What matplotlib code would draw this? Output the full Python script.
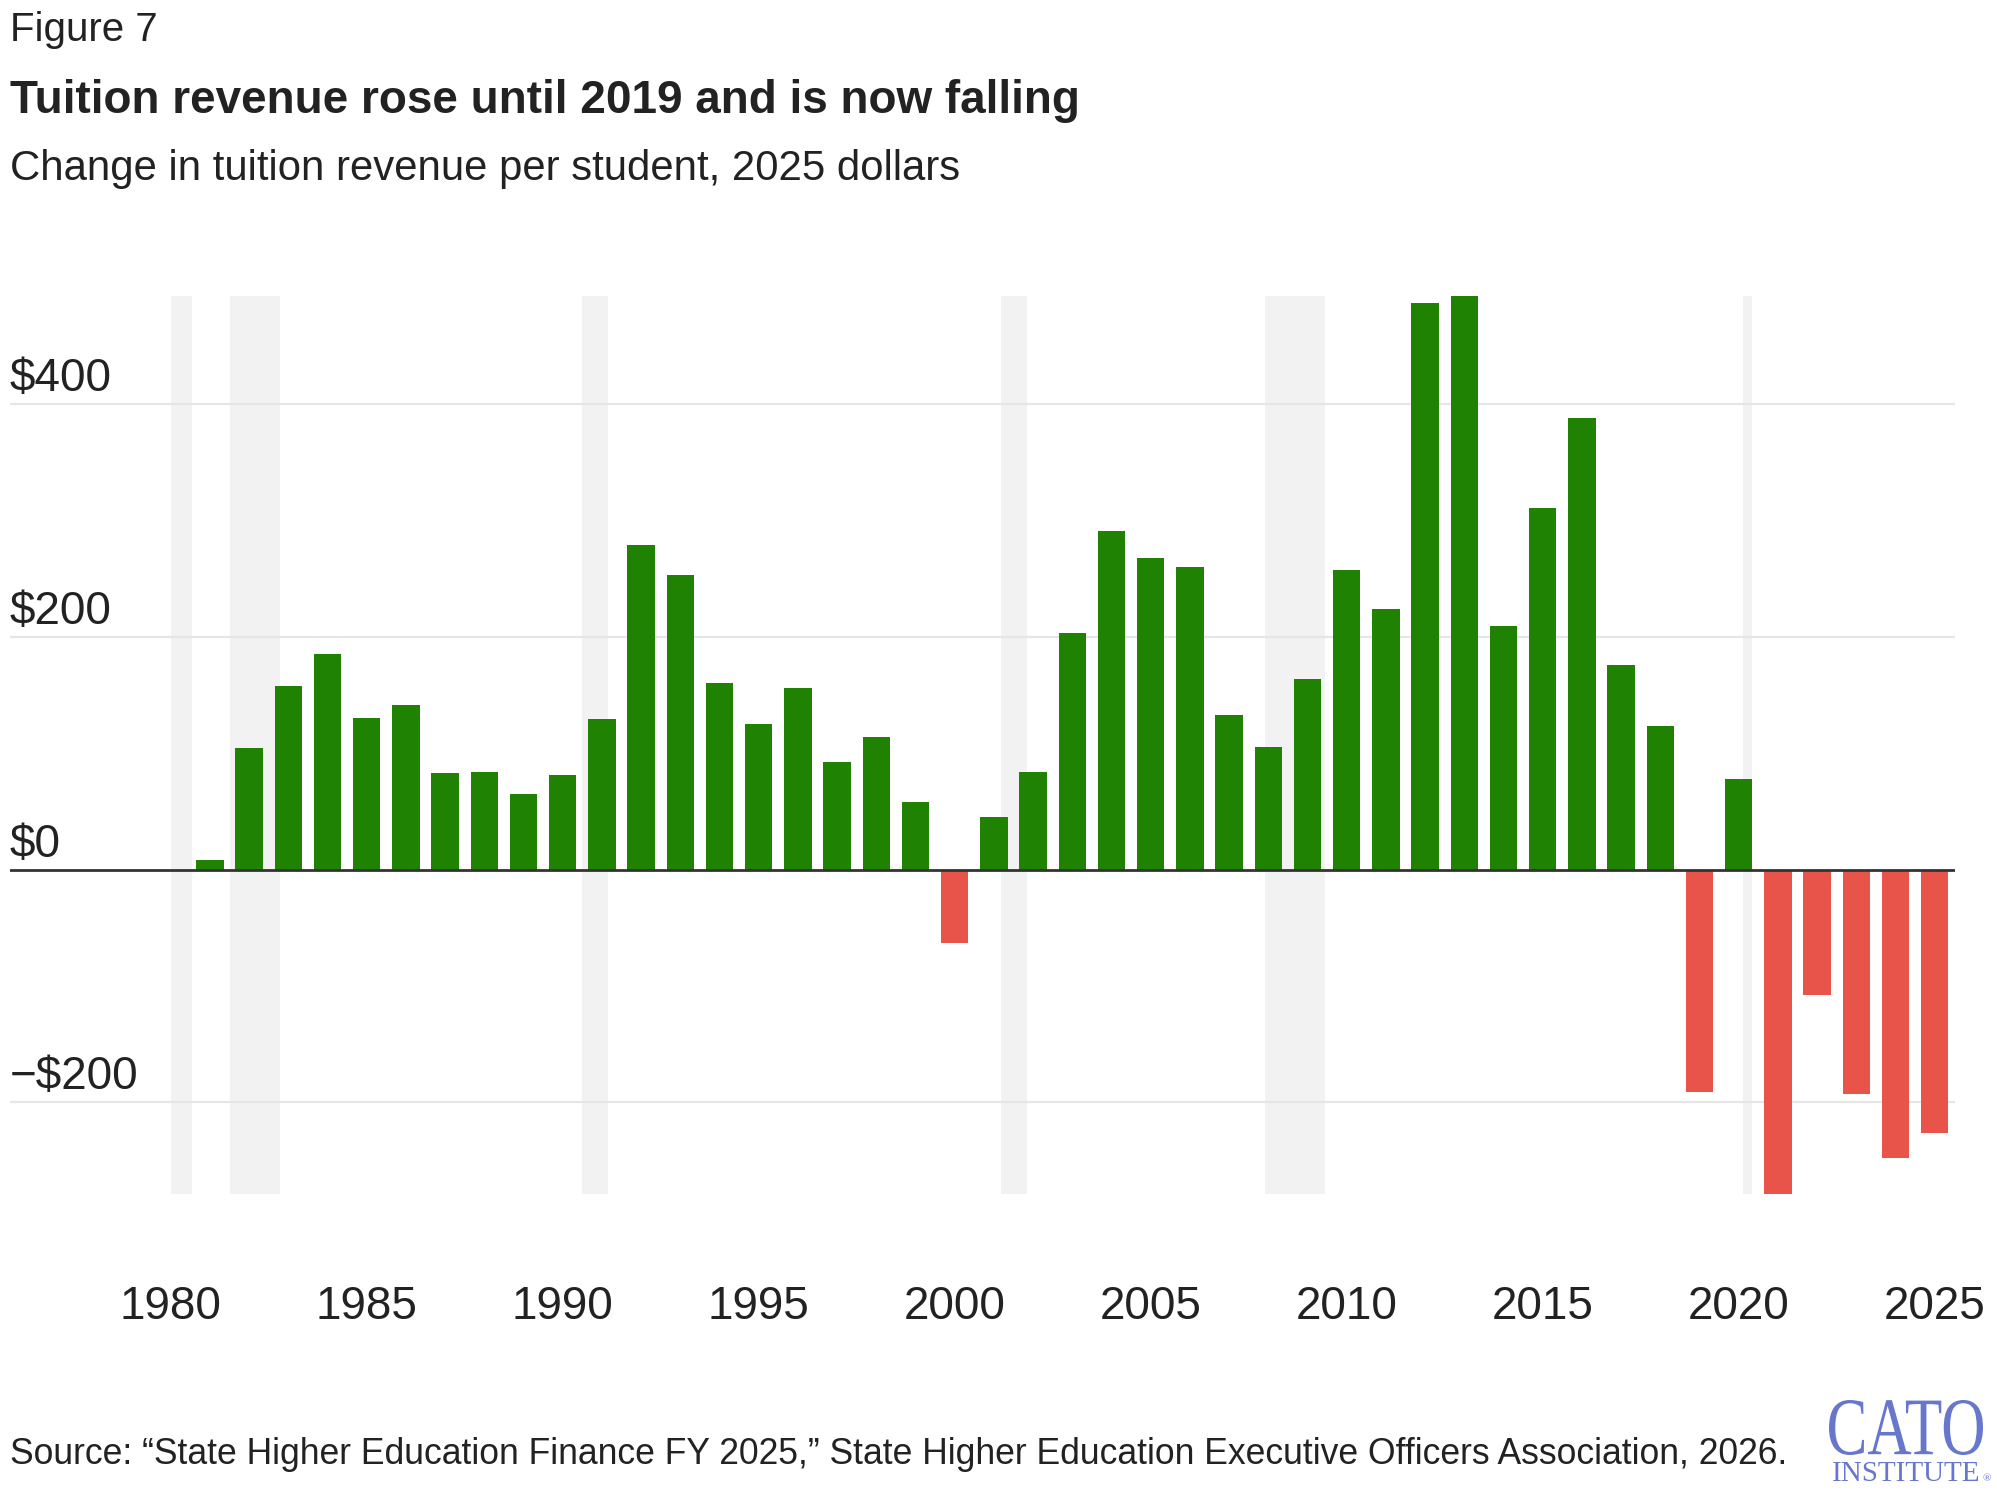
import numpy as np
import matplotlib
matplotlib.use("Agg")
import matplotlib.pyplot as plt
from matplotlib import transforms
from matplotlib.textpath import TextPath
from matplotlib.patches import PathPatch
from matplotlib.font_manager import FontProperties

# --- Data --- #
years = list(range(1981, 2026))
change = [8, 104, 158, 185, 130, 141, 83, 84, 65, 81,
          129, 279, 253, 160, 125, 156, 92, 114, 58, -63,
          45, 84, 203, 291, 268, 260, 133, 105, 164, 257,
          224, 487, 493, 209, 311, 388, 176, 123, -191, 78,
          -279, -108, -193, -248, -226]

recession_start = [1980.0, 1981.5, 1990.5, 2001.17, 2007.92, 2020.1]
recession_end = [1980.55, 1982.8, 1991.15, 2001.85, 2009.45, 2020.35]

y_ticks = [-200, 0, 200, 400]
y_tick_labels = ["\u2212$200", "$0", "$200", "$400"]
x_ticks = list(range(1980, 2026, 5))

GREEN = "#1f8203"
RED = "#e8534a"
SHADE = "#f2f2f2"
GRID = "#e6e6e6"
TEXT = "#222222"
LOGO = "#6677cc"

plain = ["Liberation Sans", "DejaVu Sans"]
serif = ["Liberation Serif", "DejaVu Serif"]

fig = plt.figure(figsize=(19.97, 14.93), dpi=100)
ax = fig.add_axes([0.005, 0.2, 0.974, 0.602])

# --- recession shading --- #
for s, e in zip(recession_start, recession_end):
    ax.axvspan(s, e, color=SHADE, lw=0, zorder=0)

# --- grid --- #
for t in y_ticks:
    if t == 0:
        continue
    ax.axhline(t, color=GRID, lw=1.6, zorder=1)

# --- bars --- #
colors = [GREEN if v >= 0 else RED for v in change]
ax.bar(years, change, width=0.7, color=colors, zorder=2)
ax.axhline(0, color="#333333", lw=2, zorder=3)

ax.set_xlim(1975.9, 2025.52)
ax.set_ylim(min(change), max(change))

for sp in ax.spines.values():
    sp.set_visible(False)
ax.set_yticks([])
ax.set_xticks(x_ticks)
ax.set_xticklabels([str(x) for x in x_ticks], fontsize=33, color=TEXT, family=plain)
ax.tick_params(axis="x", length=0, pad=65)

# y labels sit above their gridlines, left aligned
trans = transforms.blended_transform_factory(ax.transAxes, ax.transData)
offset = transforms.offset_copy(trans, fig=fig, x=0, y=13, units="dots")
for t, lab in zip(y_ticks, y_tick_labels):
    ax.text(0.0, t, lab, transform=offset, ha="left", va="baseline",
            fontsize=33, color=TEXT, family=plain, zorder=4)

# --- header --- #
fig.text(10 / 1997, 1 - 30 / 1493, "Figure 7", fontsize=29, color=TEXT,
         family=plain, ha="left", va="center")
fig.text(10 / 1997, 1 - 101 / 1493, "Tuition revenue rose until 2019 and is now falling",
         fontsize=33, fontweight="bold", color=TEXT, family=plain, ha="left", va="center")
fig.text(10 / 1997, 1 - 169 / 1493, "Change in tuition revenue per student, 2025 dollars",
         fontsize=30.2, color=TEXT, family=plain, ha="left", va="center")

# --- footer --- #
fig.text(10 / 1997, 1 - 1455 / 1493,
         "Source: \u201cState Higher Education Finance FY 2025,\u201d State Higher Education "
         "Executive Officers Association, 2026.",
         fontsize=25.6, color=TEXT, family=plain, ha="left", va="center")

# logo: tall narrow "CATO" squeezed into its box (pixels, origin bottom-left)
tp = TextPath((0, 0), "CATO", size=100, prop=FontProperties(family=serif))
ext = tp.get_extents()
box_x, box_y, box_w, box_h = 1829, 1493 - 1455, 154, 55
squeeze = (transforms.Affine2D().translate(-ext.x0, -ext.y0)
           .scale(box_w / ext.width, box_h / ext.height).translate(box_x, box_y))
logo = PathPatch(squeeze.transform_path(tp), facecolor=LOGO, edgecolor="none",
                 transform=transforms.IdentityTransform())
fig.add_artist(logo)
fig.text(1906 / 1997, 1 - 1481 / 1493, "INSTITUTE", fontsize=21, color=LOGO,
         family=serif, ha="center", va="baseline")
fig.text(1987 / 1997, 1 - 1481 / 1493, "\u00ae", fontsize=8, color=LOGO,
         family=serif, ha="center", va="baseline")

fig.savefig("out.png", dpi=100)
